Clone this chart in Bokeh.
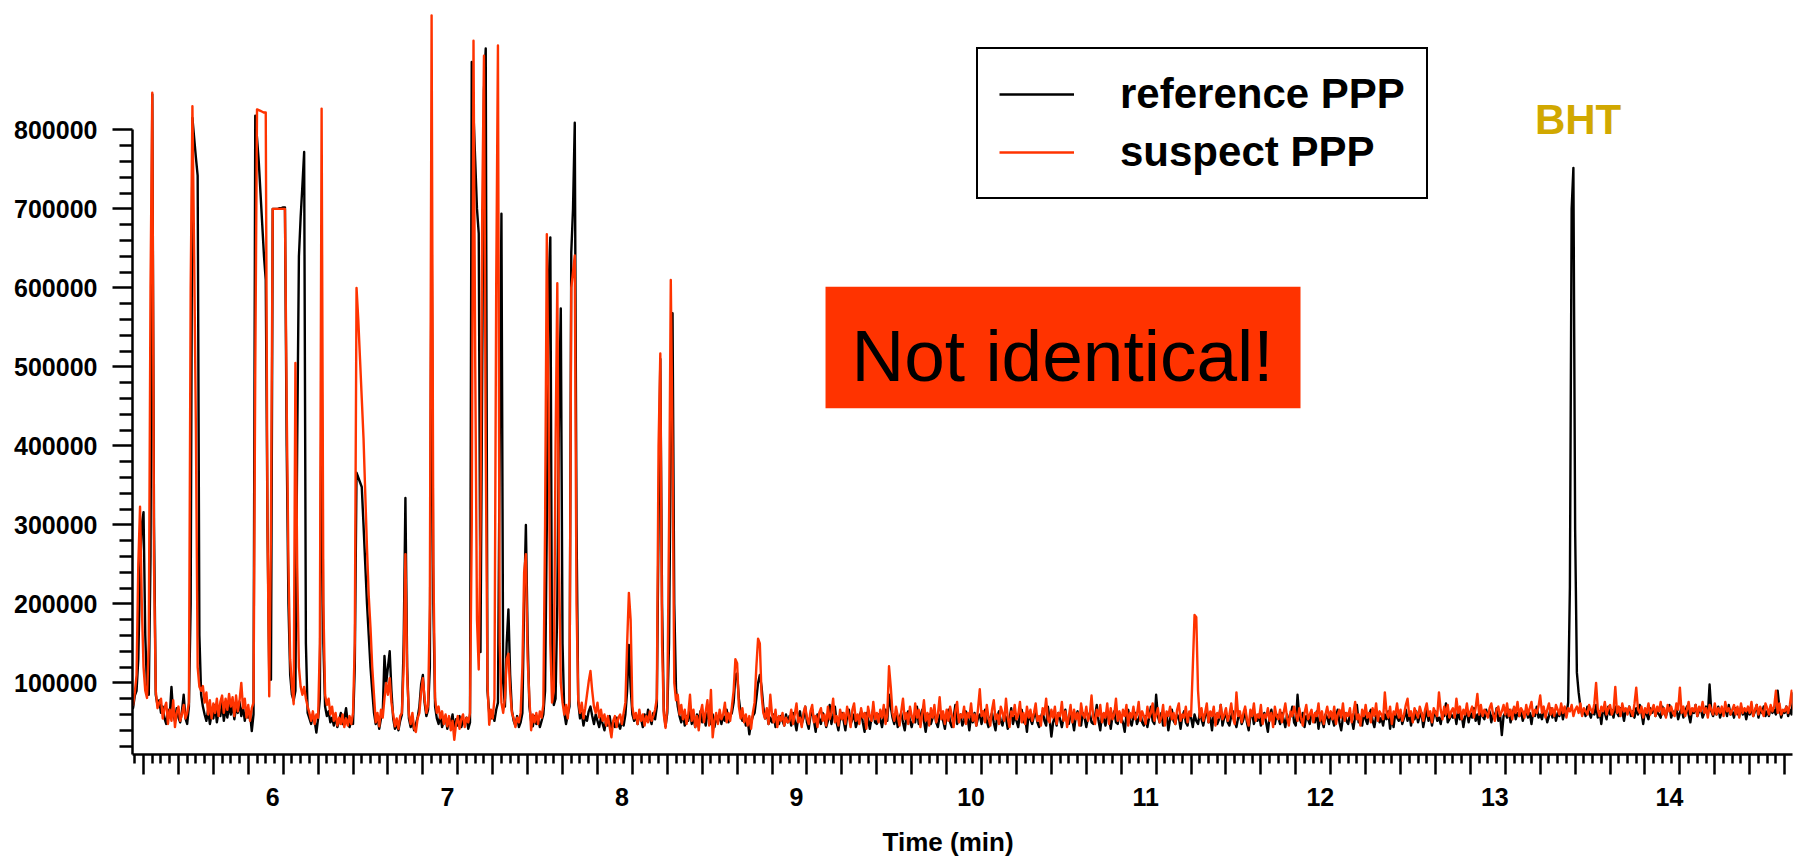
from bokeh.plotting import figure
from bokeh.models import (Range1d, FixedTicker, NumeralTickFormatter, CustomJSTickFormatter,
                          Legend, LegendItem, Label, BoxAnnotation)
from bokeh.embed import file_html
from bokeh.resources import INLINE

# ---------------- data (intensity in thousands of counts) ----------------
time_start = 5.13   # min, first sample
time_step = 0.01    # min, sampling interval

reference_ppp = [
    82, 68, 84, 90, 130, 240, 300,                       # 5.13-5.19
    316, 160, 92, 85, 260, 845, 300, 85, 72, 78,         # 5.2
    62, 70, 55, 48, 66, 58, 95, 60, 52, 68,              # 5.3
    56, 50, 64, 85, 55, 48, 70, 200, 815, 790,           # 5.4
    765, 742, 160, 85, 70, 60, 52, 66, 48, 60,           # 5.5
    55, 72, 50, 64, 58, 75, 52, 68, 56, 72,              # 5.6
    60, 74, 54, 68, 62, 76, 58, 70, 52, 66,              # 5.7
    56, 62, 39, 60, 818, 790, 760, 720, 680, 640,        # 5.8
    610, 300, 110, 104, 700, 700, 700, 700, 701, 701,    # 5.9
    702, 702, 400, 200, 110, 85, 78, 90, 400, 640,       # 6.0
    690, 730, 772, 150, 62, 55, 48, 60, 52, 37,          # 6.1
    55, 80, 513, 150, 70, 58, 64, 50, 56, 46,            # 6.2
    58, 44, 52, 62, 48, 55, 68, 50, 44, 54,              # 6.3
    48, 120, 366, 360, 354, 348, 300, 250, 200, 160,     # 6.4
    120, 90, 62, 48, 58, 42, 55, 62, 134, 100,           # 6.5
    120, 140, 90, 55, 42, 48, 40, 52, 60, 150,           # 6.6
    334, 120, 55, 44, 52, 40, 48, 56, 70, 98,            # 6.7
    110, 75, 58, 66, 120, 688, 200, 70, 55, 48,          # 6.8
    60, 44, 52, 58, 42, 55, 48, 60, 40, 54,              # 6.9
    46, 58, 44, 52, 48, 56, 42, 50, 886, 820,            # 7.0
    760, 700, 669, 139, 500, 850, 903, 90, 62, 55,       # 7.1
    60, 52, 66, 75, 400, 694, 100, 70, 150, 193,         # 7.2
    110, 65, 52, 46, 58, 44, 50, 62, 200, 300,           # 7.3
    160, 70, 52, 45, 58, 48, 56, 44, 52, 60,             # 7.4
    90, 300, 600, 664, 110, 72, 80, 200, 450, 574,       # 7.5
    150, 62, 48, 60, 70, 645, 700, 809, 300, 75,         # 7.6
    55, 62, 46, 58, 52, 64, 70, 58, 48, 60,              # 7.7
    52, 44, 56, 48, 40, 54, 46, 58, 42, 50,              # 7.8
    44, 56, 48, 42, 52, 46, 60, 90, 148, 95,             # 7.9
    60, 52, 58, 48, 62, 54, 44, 60, 52, 66,              # 8.0
    56, 48, 62, 54, 70, 300, 510, 200, 65, 45,           # 8.1
    62, 150, 400, 568, 200, 92, 70, 58, 50, 62,          # 8.2
    46, 58, 52, 66, 48, 56, 44, 60, 52, 64,              # 8.3
    50, 58, 46, 62, 54, 48, 60, 44, 56, 50,              # 8.4
    62, 48, 58, 52, 66, 50, 58, 62, 75, 110,             # 8.5
    112, 80, 62, 52, 58, 46, 54, 35, 50, 58,             # 8.6
    62, 80, 100, 110, 95, 70, 55, 62, 48, 56,            # 8.7
    50, 60, 44, 56, 48, 58, 52, 46, 60, 50,              # 8.8
    58, 46, 62, 52, 40, 56, 64, 48, 55, 70,              # 8.9
    50, 42, 58, 66, 52, 38, 60, 54, 48, 62,              # 9.0
    56, 44, 52, 72, 48, 58, 70, 50, 40, 56,              # 9.1
    62, 52, 40, 58, 66, 48, 54, 60, 44, 52,              # 9.2
    58, 64, 50, 38, 62, 54, 42, 56, 68, 50,              # 9.3
    48, 60, 54, 44, 58, 66, 52, 85, 70, 56,              # 9.4
    48, 60, 44, 56, 62, 50, 40, 58, 64, 52,              # 9.5
    44, 56, 50, 70, 48, 58, 66, 52, 38, 54,              # 9.6
    60, 48, 56, 64, 50, 44, 58, 62, 52, 42,              # 9.7
    58, 66, 50, 44, 56, 72, 48, 54, 60, 46,              # 9.8
    52, 64, 56, 40, 58, 50, 62, 46, 56, 60,              # 9.9
    48, 58, 66, 52, 44, 56, 62, 50, 40, 58,              # 10.0
    64, 52, 46, 60, 56, 42, 54, 68, 48, 58,              # 10.1
    52, 44, 60, 66, 50, 56, 38, 62, 54, 48,              # 10.2
    58, 62, 50, 44, 56, 64, 52, 46, 70, 54,              # 10.3
    32, 50, 58, 46, 62, 54, 44, 56, 66, 50,              # 10.4
    48, 60, 54, 40, 58, 64, 50, 46, 62, 56,              # 10.5
    44, 56, 62, 50, 48, 58, 72, 52, 40, 60,              # 10.6
    54, 46, 60, 56, 42, 58, 64, 50, 48, 62,              # 10.7
    56, 50, 38, 60, 66, 52, 46, 58, 62, 48,              # 10.8
    54, 62, 50, 46, 58, 44, 56, 70, 52, 48,              # 10.9
    85, 58, 50, 62, 46, 56, 60, 40, 54, 66,              # 11.0
    52, 48, 60, 56, 42, 58, 64, 50, 46, 62,              # 11.1
    56, 44, 60, 52, 48, 62, 54, 46, 58, 66,              # 11.2
    50, 56, 40, 62, 58, 48, 54, 72, 46, 56,              # 11.3
    62, 50, 46, 58, 64, 52, 44, 56, 60, 48,              # 11.4
    54, 66, 50, 40, 58, 62, 48, 56, 52, 60,              # 11.5
    46, 54, 62, 50, 38, 58, 66, 52, 48, 60,              # 11.6
    56, 48, 62, 54, 44, 60, 52, 58, 70, 50,              # 11.7
    46, 85, 56, 50, 62, 44, 58, 54, 48, 62,              # 11.8
    56, 50, 64, 42, 58, 52, 44, 60, 56, 48,              # 11.9
    62, 54, 46, 58, 66, 50, 40, 56, 62, 52,              # 12.0
    48, 60, 54, 42, 58, 72, 50, 56, 46, 62,              # 12.1
    54, 48, 60, 66, 52, 44, 58, 62, 50, 56,              # 12.2
    46, 60, 54, 64, 42, 58, 44, 62, 56, 52,              # 12.3
    60, 48, 56, 66, 52, 62, 46, 58, 54, 64,              # 12.4
    50, 58, 62, 44, 56, 66, 52, 60, 46, 58,              # 12.5
    64, 52, 56, 48, 62, 58, 74, 50, 54, 60,              # 12.6
    56, 62, 48, 66, 54, 60, 44, 58, 64, 50,              # 12.7
    62, 56, 68, 52, 60, 48, 64, 58, 54, 66,              # 12.8
    58, 64, 50, 62, 56, 68, 52, 60, 34, 58,              # 12.9
    62, 56, 66, 50, 60, 68, 54, 62, 58, 64,              # 13.0
    52, 60, 66, 56, 62, 48, 64, 58, 70, 56,              # 13.1
    60, 54, 66, 62, 50, 58, 68, 56, 64, 52,              # 13.2
    62, 58, 68, 54, 64, 60, 75, 222, 700, 752,           # 13.3
    294, 113, 88, 70, 60, 66, 58, 70, 62, 56,            # 13.4
    66, 60, 72, 56, 64, 48, 68, 62, 54, 70,              # 13.5
    60, 66, 56, 70, 62, 58, 68, 64, 52, 66,              # 13.6
    62, 70, 58, 64, 56, 68, 60, 72, 62, 48,              # 13.7
    66, 60, 54, 68, 62, 70, 58, 64, 60, 56,              # 13.8
    70, 62, 58, 66, 72, 56, 64, 60, 68, 54,              # 13.9
    62, 68, 56, 64, 70, 60, 50, 66, 62, 72,              # 14.0
    58, 64, 68, 56, 62, 70, 60, 98, 64, 58,              # 14.1
    66, 60, 70, 56, 64, 62, 68, 58, 72, 60,              # 14.2
    64, 56, 68, 62, 58, 70, 60, 66, 54, 64,              # 14.3
    60, 68, 58, 64, 72, 56, 66, 62, 70, 58,              # 14.4
    64, 58, 70, 62, 66, 60, 90, 68, 56, 64,              # 14.5
    62, 70, 58, 66, 60, 88,                              # 14.60-14.65
]

suspect_ppp = [
    95, 72, 88, 110, 250, 323, 200,                      # 5.13-5.19
    120, 90, 81, 150, 600, 847, 250, 90, 68, 75,         # 5.2
    80, 55, 68, 75, 48, 66, 52, 78, 44, 62,              # 5.3
    70, 52, 60, 72, 55, 62, 75, 600, 830, 640,           # 5.4
    420, 120, 95, 90, 96, 75, 88, 60, 78, 55,            # 5.5
    74, 62, 80, 58, 76, 84, 62, 80, 66, 86,              # 5.6
    70, 82, 58, 84, 64, 78, 100, 68, 80, 56,             # 5.7
    72, 52, 68, 75, 500, 826, 825, 824, 823, 822,        # 5.8
    822, 300, 83, 300, 700, 700, 700, 700, 700, 700,     # 5.9
    700, 700, 450, 250, 130, 95, 73, 505, 250, 120,      # 6.0
    95, 85, 95, 80, 70, 62, 52, 64, 48, 60,              # 6.1
    56, 150, 827, 200, 85, 72, 80, 60, 70, 52,           # 6.2
    62, 46, 56, 48, 60, 44, 55, 46, 58, 48,              # 6.3
    62, 150, 600, 560, 510, 460, 410, 340, 270, 210,     # 6.4
    170, 120, 85, 50, 62, 45, 66, 56, 80, 100,           # 6.5
    85, 106, 75, 60, 45, 55, 42, 58, 62, 120,            # 6.6
    263, 110, 60, 48, 62, 42, 38, 55, 62, 88,            # 6.7
    106, 80, 62, 72, 200, 945, 250, 80, 62, 70,          # 6.8
    55, 64, 48, 60, 45, 58, 40, 52, 28, 48,              # 6.9
    58, 42, 54, 60, 44, 56, 50, 62, 300, 913,            # 7.0
    500, 180, 117, 300, 700, 894, 400, 100, 47, 66,      # 7.1
    55, 80, 600, 907, 150, 75, 62, 80, 130, 137,         # 7.2
    90, 62, 55, 44, 56, 50, 62, 120, 240, 263,           # 7.3
    130, 81, 40, 60, 50, 62, 48, 64, 56, 72,             # 7.4
    300, 668, 450, 150, 75, 90, 400, 606, 250, 100,      # 7.5
    75, 60, 72, 55, 80, 600, 620, 641, 200, 78,          # 7.6
    62, 75, 55, 68, 85, 102, 115, 90, 70, 62,            # 7.7
    75, 56, 66, 52, 60, 46, 58, 44, 31, 52,              # 7.8
    58, 44, 56, 60, 48, 62, 75, 150, 214, 180,           # 7.9
    70, 55, 62, 48, 66, 52, 60, 46, 58, 50,              # 8.0
    64, 52, 58, 66, 80, 400, 517, 150, 60, 43,           # 8.1
    70, 300, 610, 400, 100, 78, 85, 60, 72, 54,          # 8.2
    66, 48, 60, 85, 52, 66, 44, 58, 40, 62,              # 8.3
    72, 50, 64, 78, 46, 91, 31, 52, 62, 48,              # 8.4
    66, 54, 60, 75, 50, 62, 52, 70, 90, 130,             # 8.5
    125, 70, 55, 68, 50, 60, 46, 58, 42, 62,             # 8.6
    75, 120, 156, 150, 85, 62, 55, 68, 48, 85,           # 8.7
    60, 50, 66, 44, 58, 52, 62, 46, 56, 50,              # 8.8
    52, 66, 48, 60, 74, 50, 56, 44, 62, 70,              # 8.9
    56, 48, 64, 72, 50, 58, 44, 62, 68, 52,              # 9.0
    60, 46, 70, 54, 62, 80, 50, 58, 46, 66,              # 9.1
    54, 62, 48, 70, 58, 44, 66, 74, 52, 60,              # 9.2
    48, 68, 56, 62, 42, 70, 58, 52, 76, 54,              # 9.3
    62, 50, 66, 56, 72, 48, 60, 121, 95, 62,             # 9.4
    52, 70, 58, 46, 64, 80, 54, 62, 48, 70,              # 9.5
    58, 50, 74, 56, 66, 44, 60, 78, 52, 62,              # 9.6
    46, 68, 56, 72, 50, 60, 82, 54, 64, 48,              # 9.7
    66, 52, 70, 58, 44, 64, 76, 50, 60, 56,              # 9.8
    70, 48, 62, 56, 74, 52, 60, 46, 68, 92,              # 9.9
    58, 64, 50, 72, 56, 46, 66, 78, 54, 60,              # 10.0
    48, 70, 62, 52, 80, 56, 44, 64, 58, 72,              # 10.1
    54, 60, 76, 50, 62, 48, 70, 56, 66, 52,              # 10.2
    62, 74, 52, 58, 46, 68, 60, 80, 54, 50,              # 10.3
    66, 56, 70, 48, 62, 58, 76, 52, 64, 44,              # 10.4
    58, 72, 50, 66, 54, 62, 46, 74, 60, 56,              # 10.5
    70, 52, 60, 84, 56, 48, 66, 58, 72, 50,              # 10.6
    62, 56, 74, 48, 68, 54, 60, 80, 52, 64,              # 10.7
    50, 66, 58, 72, 46, 62, 56, 70, 54, 60,              # 10.8
    76, 52, 64, 58, 48, 70, 56, 62, 74, 52,              # 10.9
    60, 68, 50, 56, 72, 46, 64, 58, 70, 54,              # 11.0
    62, 48, 66, 74, 52, 60, 56, 70, 50, 64,              # 11.1
    58, 120, 186, 183, 90, 56, 68, 52, 62, 74,           # 11.2
    50, 64, 58, 70, 46, 62, 56, 72, 54, 60,              # 11.3
    68, 52, 60, 74, 56, 48, 88, 58, 64, 50,              # 11.4
    62, 70, 54, 46, 66, 58, 74, 52, 60, 56,              # 11.5
    72, 48, 60, 56, 68, 52, 62, 44, 70, 58,              # 11.6
    54, 66, 50, 62, 74, 56, 46, 64, 58, 70,              # 11.7
    60, 52, 68, 56, 46, 62, 72, 54, 60, 66,              # 11.8
    50, 62, 58, 74, 52, 64, 48, 60, 70, 56,              # 11.9
    64, 54, 70, 48, 60, 66, 56, 74, 52, 62,              # 12.0
    58, 68, 50, 62, 76, 54, 60, 46, 66, 58,              # 12.1
    72, 56, 62, 50, 68, 58, 74, 52, 64, 60,              # 12.2
    54, 88, 62, 56, 70, 48, 64, 60, 74, 56,              # 12.3
    66, 52, 60, 72, 80, 58, 64, 50, 68, 62,              # 12.4
    56, 70, 62, 52, 66, 74, 58, 64, 50, 68,              # 12.5
    62, 58, 88, 66, 54, 70, 60, 72, 56, 64,              # 12.6
    68, 56, 80, 62, 70, 54, 66, 60, 74, 58,              # 12.7
    64, 70, 56, 68, 86, 60, 72, 58, 66, 62,              # 12.8
    56, 68, 74, 60, 52, 66, 70, 58, 64, 72,              # 12.9
    60, 74, 58, 66, 54, 70, 62, 76, 58, 68,              # 13.0
    64, 56, 72, 60, 68, 76, 58, 66, 62, 70,              # 13.1
    84, 62, 70, 56, 66, 74, 60, 68, 58, 72,              # 13.2
    66, 60, 74, 62, 70, 56, 68, 64, 72, 58,              # 13.3
    66, 70, 62, 74, 58, 68, 64, 60, 72, 66,              # 13.4
    62, 74, 100, 66, 58, 70, 64, 76, 60, 68,             # 13.5
    72, 60, 66, 95, 62, 70, 58, 74, 64, 68,              # 13.6
    60, 70, 64, 58, 74, 94, 66, 62, 70, 56,              # 13.7
    68, 62, 74, 60, 66, 72, 58, 70, 64, 76,              # 13.8
    60, 68, 56, 72, 64, 70, 62, 58, 74, 66,              # 13.9
    94, 62, 70, 58, 66, 76, 60, 68, 64, 72,              # 14.0
    58, 70, 64, 76, 62, 68, 56, 72, 66, 60,              # 14.1
    74, 60, 68, 62, 70, 58, 76, 64, 68, 60,              # 14.2
    66, 72, 60, 70, 56, 74, 62, 68, 64, 70,              # 14.3
    62, 76, 58, 66, 72, 60, 70, 64, 58, 74,              # 14.4
    68, 60, 72, 64, 70, 90, 62, 74, 60, 66,              # 14.5
    64, 70, 62, 72, 90, 66,                              # 14.60-14.65
]

series_names = ["reference PPP", "suspect PPP"]
x_tick_labels = ["6", "7", "8", "9", "10", "11", "12", "13", "14"]
y_tick_values = [100000, 200000, 300000, 400000, 500000, 600000, 700000, 800000]

bht_time, bht_label_level = 13.4166, 813500
note_text = "Not identical!"

# ---------------- styles ----------------
FONT = "Liberation Sans"
BLACK = "#000000"
RED = "#FF3300"
GOLD = "#D1A800"

def series_xy(vals):
    xs = [round(time_start + i * time_step, 3) for i in range(len(vals))]
    ys = [v * 1000 for v in vals]
    return xs, ys

x_ref, y_ref = series_xy(reference_ppp)
x_sus, y_sus = series_xy(suspect_ppp)

X0, X1 = 5.1368, 14.645
Y0, Y1 = 9360, 963830

p = figure(width=1793, height=859, output_backend="svg", toolbar_location=None,
           x_range=Range1d(X0, X1), y_range=Range1d(Y0, Y1),
           min_border_left=132, min_border_right=1, min_border_top=0, min_border_bottom=104)
p.background_fill_color = "white"
p.border_fill_color = "white"
p.outline_line_color = None
p.xgrid.visible = False
p.ygrid.visible = False

r_ref = p.line(x_ref, y_ref, line_color=BLACK, line_width=2.4, line_join="round")
r_sus = p.line(x_sus, y_sus, line_color=RED, line_width=2.4, line_join="round")

# ---- y axis ----
y_minor = [v for v in range(20000, 800001, 20000) if v % 100000 != 0]
yax = p.yaxis[0]
yax.ticker = FixedTicker(ticks=y_tick_values, minor_ticks=y_minor)
yax.formatter = NumeralTickFormatter(format="0")
yax.bounds = (Y0, 800000)
yax.axis_line_width = 2.5
yax.major_tick_line_width = 2.5
yax.minor_tick_line_width = 2.5
yax.major_tick_out = 20
yax.major_tick_in = 0
yax.minor_tick_out = 13
yax.minor_tick_in = 0
yax.major_label_standoff = 15
yax.major_label_text_font = FONT
yax.major_label_text_font_style = "bold"
yax.major_label_text_font_size = "25px"
yax.major_label_text_color = BLACK

# ---- x axis ----
x_major = [round(5.2 + 0.2 * k, 1) for k in range(48)]
x_minor = [round(5.15 + 0.05 * k, 2) for k in range(191)]
x_minor = [m for m in x_minor if all(abs(m - t) > 1e-6 for t in x_major) and m <= X1]
xax = p.xaxis[0]
xax.ticker = FixedTicker(ticks=x_major, minor_ticks=x_minor)
labels_js = "{" + ",".join('"%s":"%s"' % (l, l) for l in x_tick_labels) + "}"
xax.formatter = CustomJSTickFormatter(code="""
const labels = %s;
const r = Math.round(tick);
if (Math.abs(tick - r) < 1e-6 && labels[String(r)] !== undefined) {
  return labels[String(r)] + "\\u00a0\\u00a0\\u00a0";
}
return "";
""" % labels_js)
xax.bounds = (X0, X1)
xax.axis_line_width = 2.5
xax.major_tick_line_width = 2.5
xax.minor_tick_line_width = 2.5
xax.major_tick_out = 20
xax.major_tick_in = 0
xax.minor_tick_out = 9
xax.minor_tick_in = 0
xax.major_label_standoff = 8
xax.major_label_text_font = FONT
xax.major_label_text_font_style = "bold"
xax.major_label_text_font_size = "25px"
xax.major_label_text_color = BLACK
xax.axis_label = "Time (min)" + "\u00a0" * 4
xax.axis_label_standoff = 13
xax.axis_label_text_font = FONT
xax.axis_label_text_font_style = "bold"
xax.axis_label_text_font_size = "26px"
xax.axis_label_text_color = BLACK

# ---- legend ----
legend = Legend(items=[LegendItem(label=series_names[0], renderers=[r_ref]),
                       LegendItem(label=series_names[1], renderers=[r_sus])],
                location=(844, 555))
legend.label_text_font = FONT
legend.label_text_font_style = "bold"
legend.label_text_font_size = "42px"
legend.label_text_color = BLACK
legend.glyph_width = 75
legend.glyph_height = 40
legend.label_standoff = 46
legend.padding = 21
legend.spacing = 10
legend.margin = 0
legend.border_line_color = BLACK
legend.border_line_alpha = 1
legend.border_line_width = 2.5
legend.background_fill_color = "white"
legend.background_fill_alpha = 1
p.add_layout(legend)

# ---- annotations ----
p.add_layout(Label(x=bht_time, y=bht_label_level, text="BHT", text_align="center",
                   text_baseline="alphabetic", text_font=FONT, text_font_style="bold",
                   text_font_size="42px", text_color=GOLD))

p.add_layout(BoxAnnotation(left=9.1063, right=11.827, bottom=447660, top=601380,
                           fill_color=RED, fill_alpha=1, line_color=None, level="annotation"))
p.add_layout(Label(x=10.4638, y=514660, text=note_text, text_align="center",
                   text_baseline="alphabetic", text_font=FONT, text_font_style="normal",
                   text_font_size="73px", text_color=BLACK))

open("out.html", "w").write(file_html(p, INLINE))
